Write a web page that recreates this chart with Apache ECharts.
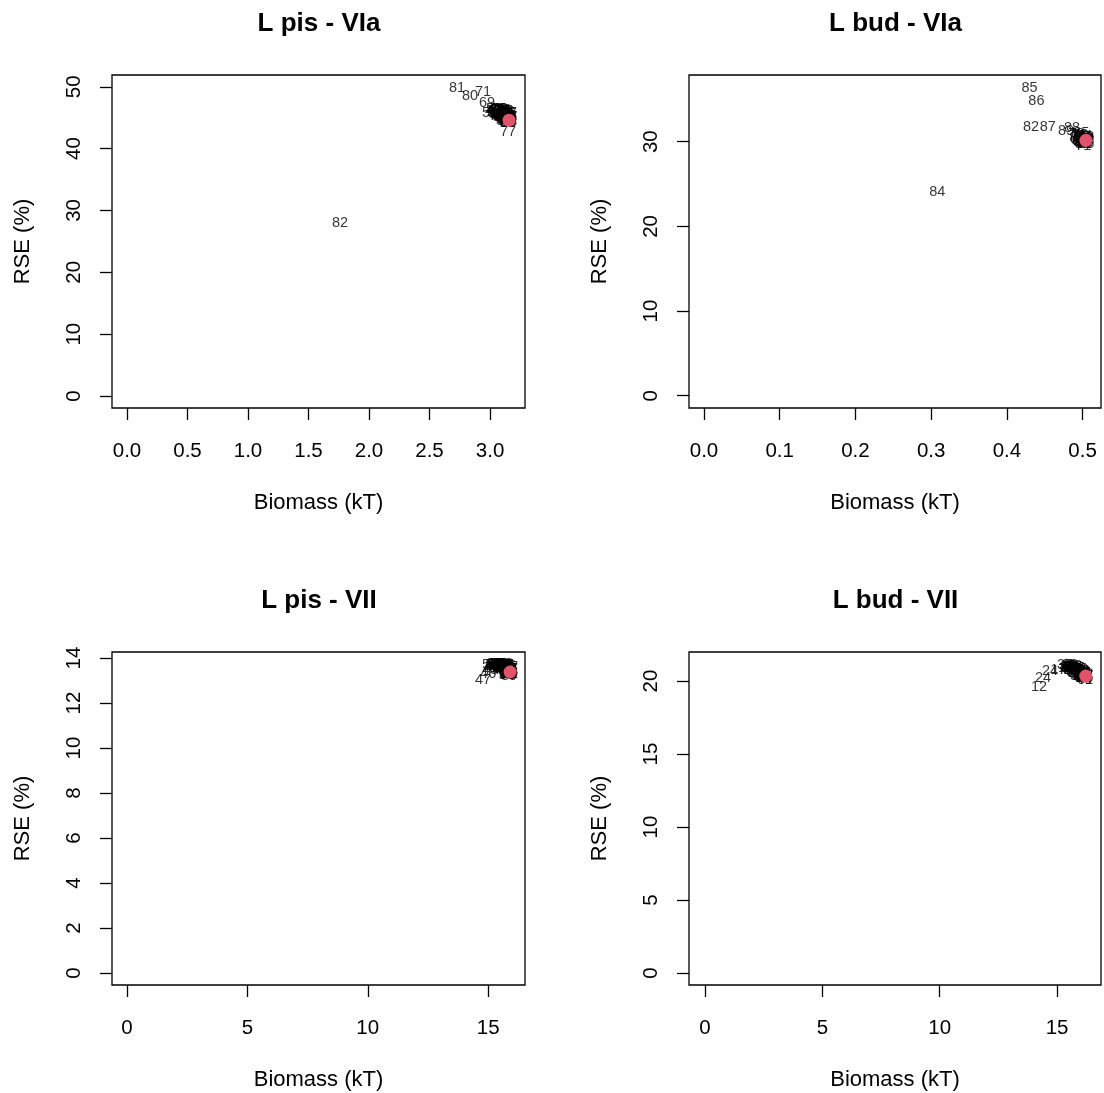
<!DOCTYPE html>
<html>
<head>
<meta charset="utf-8">
<script src="https://cdn.jsdelivr.net/npm/echarts@6/dist/echarts.min.js"></script>
<style>
html,body{margin:0;padding:0;background:#fff;}
#chart{width:1104px;height:1093px;}
</style>
</head>
<body>
<div id="chart"></div>
<script>
// ---------- DATA ----------
const titles = ['L pis - VIa', 'L bud - VIa', 'L pis - VII', 'L bud - VII'];
const xAxisTitle = 'Biomass (kT)';
const yAxisTitle = 'RSE (%)';

// Panel 1: L pis - VIa
const p1Labels = ['82','81','80','71','69','77','59','68','67','66','65','64','63','62','61','60','72','73','74','75','76','78','79','70',
                  '50','51','52','53','54','55','56','57','58','83','84','85','86','87','88',
                  '40','41','42','43','44','45','46','47','48','49','30','31','32','33','34','35','36'];
const p1X = [1.760,2.727,2.835,2.942,2.975,3.149,3.000,3.050,3.066,3.083,3.083,3.099,3.107,3.124,3.116,3.132,3.140,3.149,3.132,3.157,3.157,3.099,3.058,3.074,
             3.033,3.066,3.091,3.116,3.132,3.149,3.157,3.160,3.041,3.074,3.091,3.107,3.124,3.140,3.157,
             3.025,3.041,3.058,3.083,3.107,3.124,3.140,3.157,3.050,3.066,3.083,3.099,3.116,3.132,3.149,3.116,3.149];
const p1Y = [28.0,49.8,48.5,49.2,47.4,42.7,45.8,46.12,45.79,45.95,45.15,45.63,45.15,45.47,44.82,44.98,45.31,44.66,44.50,44.98,44.82,46.28,45.31,46.4,
             46.44,46.28,46.12,45.95,45.79,45.63,45.31,45.15,45.79,45.63,45.31,44.98,44.66,44.34,44.34,
             46.12,46.28,46.44,46.44,46.28,46.12,45.95,45.79,45.63,45.31,45.47,45.15,45.31,44.82,45.15,44.50,44.18];
const p1Base = [3.157, 44.6];

// Panel 2: L bud - VIa
const p2Labels = ['85','86','82','87','84','88','89','79','78','70','76','75','74','73','72','69','68','67','66','77','71','80','81',
                  '60','61','62','63','64','65','50','51','52','53','54','55','56','57'];
const p2X = [0.430,0.439,0.432,0.454,0.308,0.486,0.478,0.4916,0.4943,0.4969,0.4956,0.4996,0.4983,0.5009,0.5022,0.5035,0.5048,0.5048,0.5022,0.5035,0.5009,0.4930,0.4969,
             0.4943,0.4969,0.4996,0.5048,0.5022,0.4983,0.4996,0.5022,0.5048,0.4996,0.5022,0.5048,0.5009,0.5035];
const p2Y = [36.3,34.84,31.70,31.70,24.09,31.65,31.26,30.91,30.67,30.79,30.44,30.55,30.20,30.32,30.08,30.44,30.20,29.96,29.85,29.73,29.49,30.44,30.10,
             30.20,29.96,29.73,30.55,30.67,31.03,30.32,30.32,30.32,30.08,29.73,29.73,29.85,29.96];
const p2Base = [0.5044, 30.16];

// Panel 3: L pis - VII
const p3Labels = ['47','46','45','50','48','49','51','52','53','54','55','56','57','58','59','60','61','62','63','64','65','66','67',
                  '68','69','70','71','72','73','74','75','76','77','78','79',
                  '80','81','82','83','84','85','86','87','88','89','90','91','92','93'];
const p3X = [14.79,15.00,15.08,15.08,15.16,15.16,15.29,15.41,15.54,15.66,15.75,15.83,15.87,15.91,15.91,15.50,15.62,15.75,15.87,15.79,15.79,15.54,15.45,
             15.25,15.37,15.50,15.62,15.70,15.79,15.87,15.83,15.75,15.91,15.58,15.45,
             15.21,15.33,15.45,15.58,15.66,15.75,15.83,15.91,15.79,15.87,15.75,15.91,15.54,15.37];
const p3Y = [13.02,13.29,13.47,13.69,13.56,13.64,13.69,13.73,13.73,13.69,13.64,13.56,13.47,13.38,13.29,13.60,13.56,13.42,13.29,13.33,13.24,13.51,13.60,
             13.73,13.64,13.69,13.64,13.73,13.56,13.38,13.24,13.33,13.51,13.47,13.56,
             13.69,13.73,13.73,13.69,13.60,13.69,13.64,13.60,13.47,13.20,13.24,13.29,13.60,13.56];
const p3Base = [15.91, 13.38];

// Panel 4: L bud - VII
const p4Labels = ['12','24','24','17','16','15','18','19','20','21','22','23','25','26','27','28','29','30','31','32','33','34','35','36',
                  '37','38','39','40','41','42','43','44','45','46','47',
                  '48','49','50','51','52','53','54','55','56','57','58','59','60','61'];
const p4X = [14.23,14.40,14.70,15.05,15.38,15.47,15.55,15.64,15.72,15.81,15.89,15.98,16.06,16.15,16.20,15.72,15.89,16.06,16.19,15.60,15.77,15.94,16.11,16.20,
             15.34,15.55,15.81,15.98,16.11,16.20,15.64,15.85,16.02,16.15,15.47,
             15.43,15.51,15.60,15.68,15.77,15.85,15.94,16.02,16.11,16.19,15.72,15.89,16.06,16.19];
const p4Y = [19.61,20.21,20.68,20.75,20.89,21.03,20.96,20.89,20.82,20.75,20.68,20.55,20.48,20.41,20.34,21.03,20.89,20.68,20.55,20.75,20.55,20.41,20.27,20.21,
             21.10,21.10,20.96,20.82,20.62,20.48,20.62,20.41,20.21,20.07,20.82,
             20.96,21.03,20.89,20.96,20.82,20.75,20.62,20.55,20.41,20.34,20.62,20.34,20.21,20.07];
const p4Base = [16.22, 20.34];

// tick values
const p1XTicks = [0,0.5,1.0,1.5,2.0,2.5,3.0];
const p1YTicks = [0,10,20,30,40,50];
const p2XTicks = [0,0.1,0.2,0.3,0.4,0.5];
const p2YTicks = [0,10,20,30];
const p3XTicks = [0,5,10,15];
const p3YTicks = [0,2,4,6,8,10,12,14];
const p4XTicks = [0,5,10,15];
const p4YTicks = [0,5,10,15,20];

// ---------- LAYOUT ----------
const FONT = '"Liberation Sans", Arial, Helvetica, sans-serif';
const panels = [
  {labels:p1Labels, xs:p1X, ys:p1Y, base:p1Base, xt:p1XTicks, yt:p1YTicks, xr:[-0.124,3.289], yr:[-1.94,51.9], xdec:1,
   box:{left:112, top:75, width:413, height:333}},
  {labels:p2Labels, xs:p2X, ys:p2Y, base:p2Base, xt:p2XTicks, yt:p2YTicks, xr:[-0.0198,0.5243], yr:[-1.45,37.88], xdec:1,
   box:{left:689, top:75, width:412, height:333}},
  {labels:p3Labels, xs:p3X, ys:p3Y, base:p3Base, xt:p3XTicks, yt:p3YTicks, xr:[-0.623,16.53], yr:[-0.533,14.27], xdec:0,
   box:{left:112, top:652, width:413, height:333}},
  {labels:p4Labels, xs:p4X, ys:p4Y, base:p4Base, xt:p4XTicks, yt:p4YTicks, xr:[-0.68,16.87], yr:[-0.82,21.99], xdec:0,
   box:{left:689, top:652, width:412, height:333}}
];

const grid = [], xAxis = [], yAxis = [], series = [], title = [];
panels.forEach((p, i) => {
  grid.push(Object.assign({show:true, borderColor:'#000', borderWidth:1.3, backgroundColor:'transparent', containLabel:false}, p.box));
  title.push({
    text: titles[i], left: p.box.left + p.box.width/2 - 4.5, top: p.box.top - 69, textAlign:'center',
    textStyle:{fontFamily:FONT, fontSize:26, fontWeight:'bold', color:'#000'}
  });
  const tickStyle = {show:true, inside:false, length:12, lineStyle:{color:'#000', width:1.3}};
  xAxis.push({
    type:'value', gridIndex:i, min:p.xr[0], max:p.xr[1], position:'bottom',
    name:xAxisTitle, nameLocation:'middle', nameGap:84,
    nameTextStyle:{fontFamily:FONT, fontSize:22, color:'#000'},
    axisLine:{show:false, onZero:false}, splitLine:{show:false},
    axisTick:Object.assign({customValues:p.xt}, tickStyle),
    axisLabel:{customValues:p.xt, margin:33, fontFamily:FONT, fontSize:20.5, color:'#000',
      formatter:v => Number(v).toFixed(p.xdec)}
  });
  yAxis.push({
    type:'value', gridIndex:i, min:p.yr[0], max:p.yr[1], position:'left',
    name:yAxisTitle, nameLocation:'middle', nameGap:78, nameRotate:90,
    nameTextStyle:{fontFamily:FONT, fontSize:22, color:'#000'},
    axisLine:{show:false, onZero:false}, splitLine:{show:false},
    axisTick:Object.assign({customValues:p.yt}, tickStyle),
    axisLabel:{customValues:p.yt, rotate:90, margin:27, fontFamily:FONT, fontSize:20.5, color:'#000',
      formatter:v => String(Math.round(v))}
  });
  const pts = p.labels.map((lab, k) => [p.xs[k], p.ys[k], lab]);
  series.push({
    type:'scatter', xAxisIndex:i, yAxisIndex:i, data:pts, symbolSize:1,
    itemStyle:{color:'rgba(0,0,0,0)'}, silent:true,
    label:{show:true, position:'inside', formatter:q => q.value[2],
      fontFamily:FONT, fontSize:14.5, color:'#000', textBorderWidth:0},
    labelLayout:{hideOverlap:false}
  });
  series.push({
    type:'scatter', xAxisIndex:i, yAxisIndex:i, data:[p.base], symbolSize:13, z:5,
    itemStyle:{color:'#DF536B', opacity:1}
  });
});

const chart = echarts.init(document.getElementById('chart'), null, {renderer:'canvas'});
chart.setOption({backgroundColor:'#fff', animation:false, title, grid, xAxis, yAxis, series});
</script>
</body>
</html>
